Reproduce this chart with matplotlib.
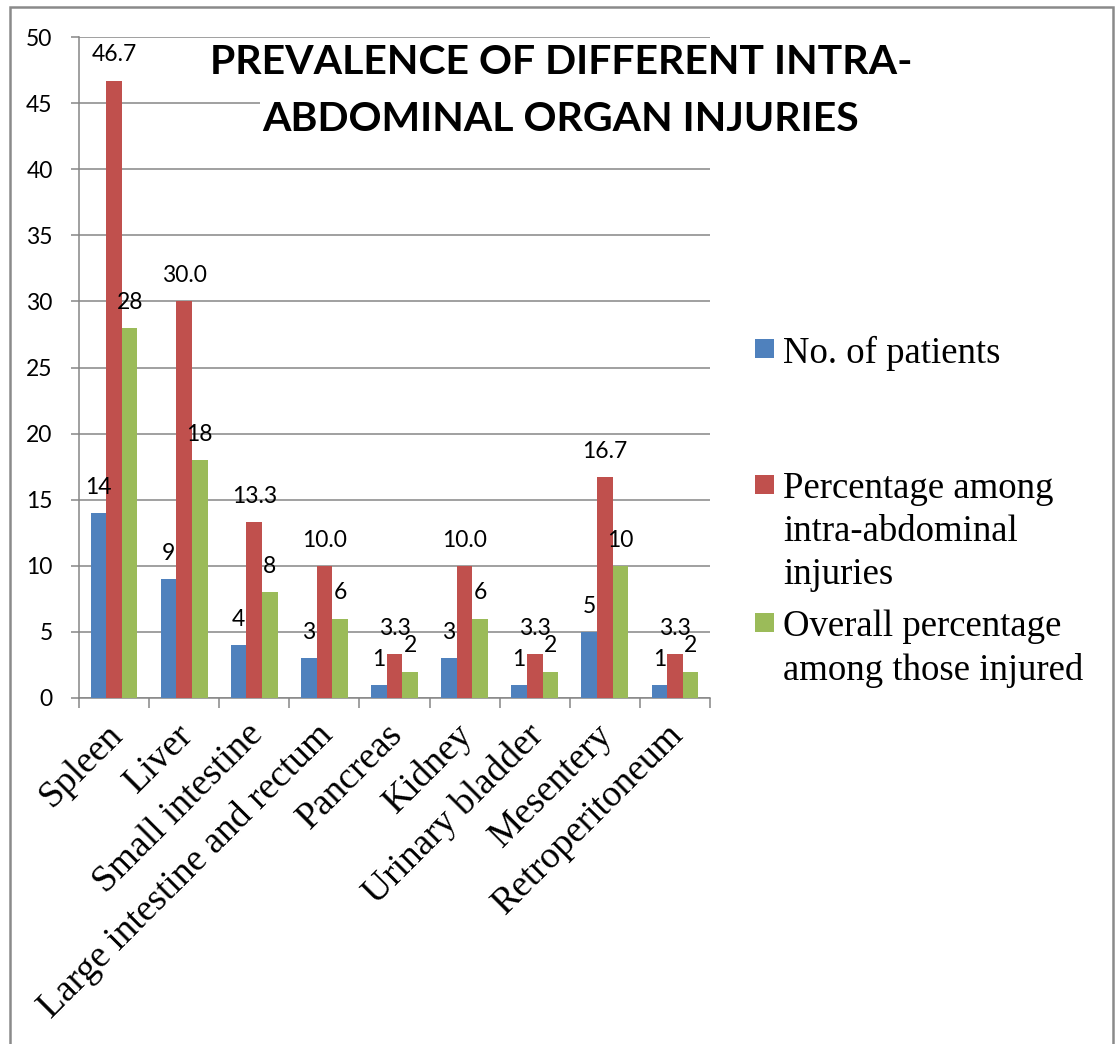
import numpy as np
import matplotlib
matplotlib.use("Agg")
import matplotlib.pyplot as plt
import matplotlib.transforms as mtransforms
from matplotlib.patches import Rectangle

# =====================================================
# DATA
# =====================================================

categories = [
    "Spleen",
    "Liver",
    "Small intestine",
    "Large intestine and rectum",
    "Pancreas",
    "Kidney",
    "Urinary bladder",
    "Mesentery",
    "Retroperitoneum",
]

patients = [14, 9, 4, 3, 1, 3, 1, 5, 1]
pct_intra = [46.7, 30.0, 13.3, 10.0, 3.3, 10.0, 3.3, 16.7, 3.3]
pct_overall = [28, 18, 8, 6, 2, 6, 2, 10, 2]

series_names = [
    "No. of patients",
    "Percentage among\nintra-abdominal\ninjuries",
    "Overall percentage\namong those injured",
]
series_fmt = ["{:.0f}", "{:.1f}", "{:.0f}"]
colors = ["#4F81BD", "#C0504D", "#9BBB59"]

title_lines = ["PREVALENCE OF DIFFERENT INTRA-", "ABDOMINAL ORGAN INJURIES"]

y_ticks = list(range(0, 55, 5))

# =====================================================
# FIGURE
# =====================================================

W, H = 1115, 1044
fig = plt.figure(figsize=(W / 100, H / 100), dpi=100)

SANS = ["Lato", "DejaVu Sans"]
SERIF = ["Liberation Serif", "DejaVu Serif"]
GRID = "#868686"

# outer chart border
fig.patches.append(Rectangle(
    (10 / W, -0.05), 1103 / W, 1.05 - 7 / H,
    transform=fig.transFigure, fill=False,
    edgecolor="#8a8a8a", linewidth=1.8
))

ax = fig.add_axes([79 / W, 1 - 698 / H, (710 - 79) / W, (698 - 37) / H])

x = np.arange(len(categories))
bw = 1 / 4.5
all_series = [patients, pct_intra, pct_overall]

for i, (vals, col, fmt) in enumerate(zip(all_series, colors, series_fmt)):
    pos = x + (i - 1) * bw
    ax.bar(pos, vals, width=bw, color=col, zorder=3)
    for px, v in zip(pos, vals):
        ax.annotate(
            fmt.format(v), (px, v),
            xytext=(0, 18.5), textcoords="offset points",
            ha="center", va="center",
            fontsize=16.5, family=SANS, zorder=4
        )

ax.set_xlim(-0.5, len(categories) - 0.5)
ax.set_ylim(0, 50)
ax.set_yticks(y_ticks)
ax.grid(axis="y", color=GRID, linewidth=1.1, zorder=0)

for s in ["top", "right"]:
    ax.spines[s].set_visible(False)
for s in ["left", "bottom"]:
    ax.spines[s].set_color(GRID)
    ax.spines[s].set_linewidth(1.1)

ax.tick_params(axis="y", length=6, width=1.1, color=GRID,
               pad=13, labelsize=16.5)
for lab in ax.get_yticklabels():
    lab.set_family(SANS)

# category boundaries carry the tick marks, labels sit at centres
ax.set_xticks(np.arange(-0.5, len(categories), 1.0), minor=True)
ax.set_xticks(x)
ax.tick_params(axis="x", which="minor", length=7.5, width=1.1, color=GRID)
ax.tick_params(axis="x", which="major", length=0, pad=14)
ax.set_xticklabels(categories, rotation=45, ha="right", va="top",
                   rotation_mode="anchor", fontsize=27, family=SERIF)
shift = mtransforms.ScaledTranslation(-9 / 100, 0, fig.dpi_scale_trans)
for lab in ax.get_xticklabels():
    lab.set_transform(lab.get_transform() + shift)

# title, one line at a time; the white box hides the gridlines behind it
for line, base in zip(title_lines, [74, 131]):
    fig.text(0.503, 1 - base / H, line,
             ha="center", va="baseline",
             fontsize=29.5, fontweight="bold", family=SANS,
             bbox=dict(boxstyle="square,pad=0.05", facecolor="white",
                       edgecolor="none"))

# legend
legend_tops = [336, 472, 610]
for name, col, top in zip(series_names, colors, legend_tops):
    fig.patches.append(Rectangle(
        (755 / W, 1 - (top + 22) / H), 19 / W, 19 / H,
        transform=fig.transFigure, facecolor=col, edgecolor="none"
    ))
    fig.text(783 / W, 1 - top / H, name, ha="left", va="top",
             fontsize=26.5, family=SERIF, linespacing=1.32)

plt.savefig("out.png", dpi=100)
